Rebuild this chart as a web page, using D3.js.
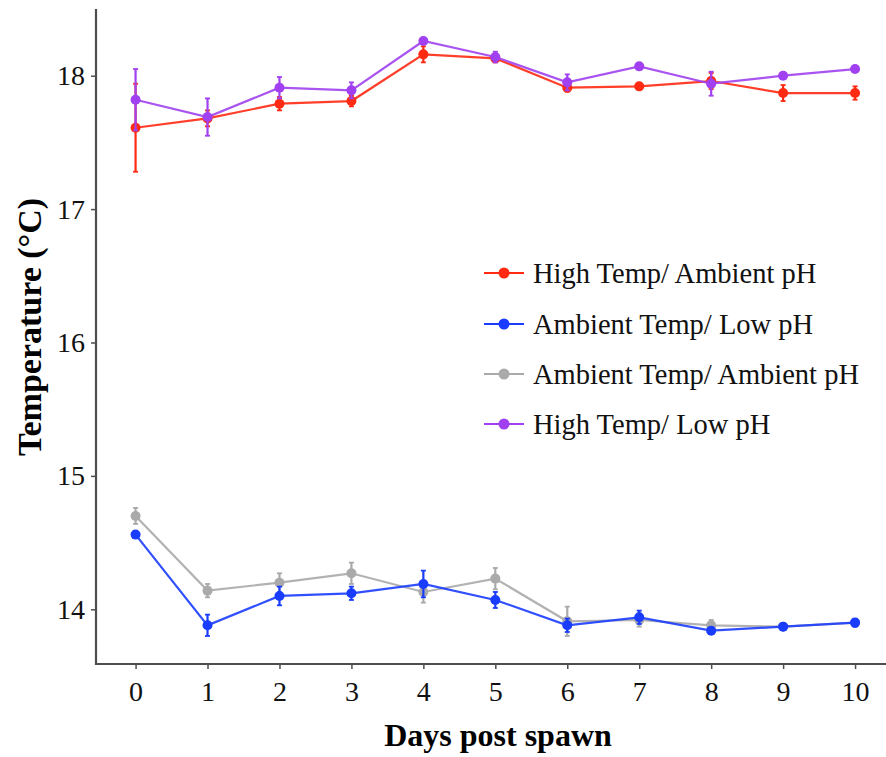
<!DOCTYPE html>
<html>
<head>
<meta charset="utf-8">
<script src="https://cdn.jsdelivr.net/npm/d3@7"></script>
<style>
  html, body { margin: 0; padding: 0; background: #fff; }
  svg { display: block; }
</style>
</head>
<body>
<svg id="chart" width="886" height="757"></svg>
<script>
// ---- data ----
const days = [0, 1, 2, 3, 4, 5, 6, 7, 8, 9, 10];
const seriesNames = ["High Temp/ Ambient pH", "Ambient Temp/ Low pH", "Ambient Temp/ Ambient pH", "High Temp/ Low pH"];
const seriesColors = ["#ff2a12", "#1a3cff", "#aaaaaa", "#a040f0"];

const highTempAmbientPH     = [17.61, 17.68, 17.79, 17.81, 18.16, 18.13, 17.91, 17.92, 17.96, 17.87, 17.87];
const highTempAmbientPH_err = [0.33, 0.06, 0.05, 0.04, 0.06, 0.03, 0.03, 0.02, 0.06, 0.06, 0.05];

const ambTempLowPH          = [14.56, 13.88, 14.10, 14.12, 14.19, 14.07, 13.88, 13.94, 13.84, 13.87, 13.90];
const ambTempLowPH_err      = [0.02, 0.08, 0.07, 0.05, 0.10, 0.06, 0.05, 0.05, 0.02, 0.02, 0.03];

const ambTempAmbientPH      = [14.70, 14.14, 14.20, 14.27, 14.13, 14.23, 13.91, 13.92, 13.88, 13.87, 13.90];
const ambTempAmbientPH_err  = [0.06, 0.05, 0.07, 0.08, 0.08, 0.08, 0.11, 0.05, 0.04, 0.02, 0.02];

const highTempLowPH         = [17.82, 17.69, 17.91, 17.89, 18.26, 18.14, 17.95, 18.07, 17.94, 18.00, 18.05];
const highTempLowPH_err     = [0.23, 0.14, 0.08, 0.06, 0.02, 0.04, 0.06, 0.02, 0.09, 0.02, 0.02];

const yTicks = [14, 15, 16, 17, 18];
const xTicks = [0, 1, 2, 3, 4, 5, 6, 7, 8, 9, 10];

const seriesValues = [highTempAmbientPH, ambTempLowPH, ambTempAmbientPH, highTempLowPH];
const seriesErrors = [highTempAmbientPH_err, ambTempLowPH_err, ambTempAmbientPH_err, highTempLowPH_err];
const drawOrder = [2, 1, 0, 3];

// ---- layout ----
const svg = d3.select("#chart");
const mLeft = 96, mRight = 886, mTop = 9, mBottom = 664;
const x = d3.scaleLinear().domain([-0.55, 10.43]).range([mLeft, mRight]);
const y = d3.scaleLinear().domain([13.59, 18.5]).range([mBottom, mTop]);

const font = "'Liberation Serif', 'Times New Roman', serif";
const axisColor = "#4d4d4d";

// y axis
const yAxis = svg.append("g").attr("transform", `translate(${mLeft},0)`)
  .call(d3.axisLeft(y).tickValues(yTicks).tickSize(5).tickPadding(6).tickFormat(d3.format("d")));
yAxis.select(".domain").remove();
yAxis.selectAll(".tick line").attr("stroke", axisColor).attr("stroke-width", 1.5);
yAxis.selectAll(".tick text").attr("font-family", font).attr("font-size", 28).attr("fill", "#111");

// x axis
const xAxis = svg.append("g").attr("transform", `translate(0,${mBottom})`)
  .call(d3.axisBottom(x).tickValues(xTicks).tickSize(5).tickPadding(12).tickFormat(d3.format("d")));
xAxis.select(".domain").remove();
xAxis.selectAll(".tick line").attr("stroke", axisColor).attr("stroke-width", 1.5);
xAxis.selectAll(".tick text").attr("font-family", font).attr("font-size", 28).attr("fill", "#111");

// axis lines
svg.append("path")
  .attr("d", `M${mLeft},${mTop}V${mBottom}H${mRight}`)
  .attr("fill", "none").attr("stroke", axisColor).attr("stroke-width", 2.2);

// axis titles
svg.append("text")
  .attr("x", 498).attr("y", 746)
  .attr("text-anchor", "middle")
  .attr("font-family", font).attr("font-weight", "bold").attr("font-size", 32)
  .attr("fill", "#000")
  .text("Days post spawn");

svg.append("text")
  .attr("transform", `translate(41,327) rotate(-90)`)
  .attr("text-anchor", "middle")
  .attr("font-family", font).attr("font-weight", "bold").attr("font-size", 34)
  .attr("fill", "#000")
  .text("Temperature (°C)");

// series
const line = d3.line().x((d, i) => x(days[i])).y(d => y(d));
drawOrder.forEach(s => {
  const g = svg.append("g");
  const col = seriesColors[s];
  const vals = seriesValues[s], errs = seriesErrors[s];
  g.append("path").attr("d", line(vals))
    .attr("fill", "none").attr("stroke", col).attr("stroke-width", 2.2).attr("opacity", 0.9);
  vals.forEach((v, i) => {
    const cx = x(days[i]);
    const y1 = y(v + errs[i]), y2 = y(v - errs[i]);
    g.append("line").attr("x1", cx).attr("x2", cx).attr("y1", y1).attr("y2", y2)
      .attr("stroke", col).attr("stroke-width", 2.2);
    [y1, y2].forEach(yy => g.append("line")
      .attr("x1", cx - 2.5).attr("x2", cx + 2.5).attr("y1", yy).attr("y2", yy)
      .attr("stroke", col).attr("stroke-width", 1.8));
    g.append("circle").attr("cx", cx).attr("cy", y(v)).attr("r", 5).attr("fill", col);
  });
});

// legend
const legendY = [273, 324, 374, 424];
seriesNames.forEach((name, i) => {
  const g = svg.append("g").attr("transform", `translate(0,${legendY[i]})`);
  g.append("line").attr("x1", 484).attr("x2", 524).attr("y1", 0).attr("y2", 0)
    .attr("stroke", seriesColors[i]).attr("stroke-width", 2.2);
  g.append("circle").attr("cx", 504).attr("cy", 0).attr("r", 5.5).attr("fill", seriesColors[i]);
  g.append("text").attr("x", 533).attr("y", 0).attr("dy", "0.35em")
    .attr("font-family", font).attr("font-size", 28.5).attr("fill", "#111")
    .text(name);
});
</script>
</body>
</html>
